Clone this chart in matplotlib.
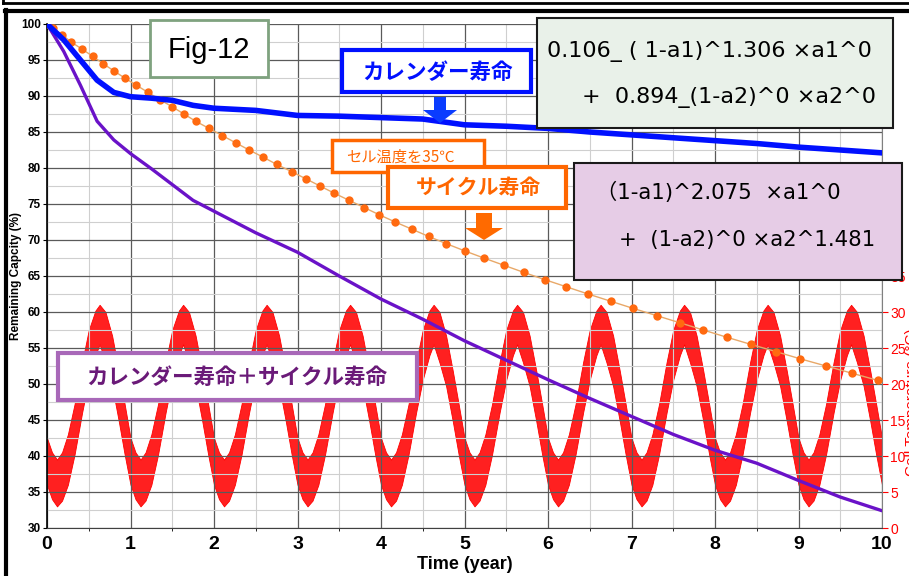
import numpy as np
import matplotlib
matplotlib.use("Agg")
import matplotlib.pyplot as plt
from matplotlib import patches
from matplotlib.lines import Line2D
from matplotlib.ticker import FuncFormatter

W, H = 909, 576
CJK = ["Liberation Sans", "Noto Sans CJK JP", "DejaVu Sans"]
FORMULA = ["DejaVu Sans", "Noto Sans CJK JP"]
plt.rcParams["font.family"] = CJK

# calendar life (blue)
cal_years = [0, 0.2, 0.4, 0.6, 0.8, 1.0, 1.25, 1.5, 1.75, 2.0, 2.5, 3.0, 3.5, 4.0, 4.5,
             5.0, 5.5, 6.0, 6.5, 7.0, 7.5, 8.0, 8.5, 9.0, 9.5, 10.0]
cal_cap = [100, 97.8, 95.0, 92.2, 90.5, 89.9, 89.7, 89.4, 88.7, 88.3, 88.0, 87.3, 87.2, 87.0, 86.8,
           86.0, 85.8, 85.5, 85.0, 84.6, 84.2, 83.8, 83.4, 82.9, 82.5, 82.1]

# calendar + cycle life (purple)
comb_years = cal_years
comb_cap = [100, 96.2, 91.5, 86.5, 83.9, 82.0, 79.9, 77.7, 75.5, 74.0, 71.0, 68.3, 65.0, 61.8, 59.0,
            56.0, 53.3, 50.6, 48.0, 45.5, 43.0, 40.8, 39.0, 36.6, 34.3, 32.4]

# cycle life at 35C (orange dots)
cyc_years = [0.0, 0.07, 0.18, 0.29, 0.42, 0.55, 0.67, 0.80, 0.93, 1.07, 1.21, 1.35, 1.50, 1.64,
             1.78, 1.94, 2.10, 2.26, 2.42, 2.59, 2.75, 2.93, 3.10, 3.27, 3.44, 3.62, 3.80,
             3.98, 4.17, 4.37, 4.57, 4.78, 5.00, 5.23, 5.47, 5.71, 5.96, 6.22, 6.48, 6.75,
             7.02, 7.30, 7.58, 7.86, 8.14, 8.43, 8.73, 9.02, 9.33, 9.64, 9.95]
cyc_cap = [100.0, 99.5, 98.5, 97.5, 96.5, 95.5, 94.5, 93.5, 92.5, 91.5, 90.5, 89.5, 88.5, 87.5,
           86.5, 85.5, 84.5, 83.5, 82.5, 81.5, 80.5, 79.5, 78.5, 77.5, 76.5, 75.5, 74.5,
           73.5, 72.5, 71.5, 70.5, 69.5, 68.5, 67.5, 66.5, 65.5, 64.5, 63.5, 62.5, 61.5,
           60.5, 59.5, 58.5, 57.5, 56.5, 55.5, 54.5, 53.5, 52.5, 51.5, 50.5]

# cell temperature band, one year's envelope (repeats every year)
temp_phase = [0.0, 0.06, 0.12, 0.18, 0.25, 0.33, 0.42, 0.50, 0.58, 0.63, 0.70, 0.78, 0.86, 0.93]
temp_low = [6.0, 4.0, 3.0, 3.8, 6.0, 10.2, 16.0, 20.6, 24.0, 25.5, 23.0, 19.7, 14.8, 10.2]
temp_high = [12.5, 10.5, 9.5, 10.5, 13.0, 17.2, 23.0, 27.5, 30.2, 31.0, 30.0, 26.7, 21.8, 17.2]
n_years = 10


def fx(x):
    return x / W


def fy(y):
    return 1 - y / H


fig = plt.figure(figsize=(W / 100, H / 100), dpi=100)
ax = fig.add_axes([fx(47), fy(528), (882 - 47) / W, (528 - 24) / H])
ax2 = ax.twinx()
ax.set_zorder(ax2.get_zorder() + 1)
ax.patch.set_visible(False)
ax2.patch.set_visible(True)
ax2.patch.set_facecolor("white")

# temperature band on the right scale
t_all, lo_all, hi_all = [], [], []
for yr in range(n_years):
    t_all += [yr + p for p in temp_phase]
    lo_all += temp_low
    hi_all += temp_high
t_all.append(n_years)
lo_all.append(temp_low[0])
hi_all.append(temp_high[0])
ax2.fill_between(t_all, lo_all, hi_all, facecolor="#ff2020", edgecolor="#ff0000", lw=0.6)

ax2.set_ylim(0, 70)
ax2.set_yticks(np.arange(0, 71, 5))
ax2.set_yticks(np.arange(0, 71, 2.5), minor=True)
ax2.yaxis.set_major_formatter(FuncFormatter(lambda v, p: f"{v:.0f}" if v <= 35 else ""))
ax2.xaxis.set_visible(True)
ax2.set_xticks(np.arange(0, 11, 1))
ax2.set_xticks(np.arange(0, 10.5, 0.5), minor=True)
ax2.tick_params(axis="x", which="both", bottom=False, top=False, labelbottom=False, labeltop=False)
ax2.tick_params(axis="y", which="major", colors="red", labelsize=10, length=4, width=0.8, pad=2)
ax2.tick_params(axis="y", which="minor", length=0)
for tk, loc in zip(ax2.yaxis.get_major_ticks(), ax2.get_yticks()):
    if loc > 35:
        tk.tick2line.set_visible(False)
ax2.grid(which="major", color="#5a5a5a", lw=0.9)
ax2.grid(which="minor", color="#cfcfcf", lw=0.8)
for s in ["top", "left", "bottom"]:
    ax2.spines[s].set_visible(False)
ax2.spines["right"].set_color("#808080")
ax2.set_ylabel("Cell Temperature (°C)", color="red", fontsize=11)
ax2.yaxis.set_label_coords((905 - 47) / 835, 0.25)

# capacity curves
ax.plot(cyc_years, cyc_cap, color="#e8a868", lw=1.0, zorder=2)
ax.plot(cyc_years, cyc_cap, "o", color="#ff6a10", ms=6, mec="none", zorder=3)
ax.plot(comb_years, comb_cap, color="#6a12c8", lw=2.4, zorder=4, solid_capstyle="round")
ax.plot(cal_years, cal_cap, color="#0010ff", lw=4.0, zorder=5, solid_capstyle="round")

ax.set_xlim(0, 10)
ax.set_ylim(30, 100)
ax.set_xticks(np.arange(0, 11, 1))
ax.set_yticks(np.arange(30, 101, 5))
ax.tick_params(axis="y", labelsize=8.5, length=3, width=0.8, pad=1.5)
ax.tick_params(axis="x", labelsize=14, length=0, pad=6)
for lab in ax.get_yticklabels():
    lab.set_fontweight("bold")
for lab in ax.get_xticklabels():
    lab.set_fontweight("bold")
    lab.set_family(["Liberation Sans Narrow", "Liberation Sans"])
for s in ["top", "right"]:
    ax.spines[s].set_visible(False)
ax.spines["left"].set_linewidth(1.2)
ax.spines["bottom"].set_color("#404040")
ax.set_ylabel("Remaining Capcity (%)", fontsize=8.5, fontweight="bold")
ax.yaxis.set_label_coords(-(47 - 22) / 835, 0.5)
ax.set_xlabel("Time (year)", fontsize=13, fontweight="bold",
              family=["Liberation Sans Narrow", "Liberation Sans"], labelpad=2)


def box(x0, y0, x1, y1, edge, face="white", lw=2.0):
    r = patches.Rectangle((fx(x0), fy(y1)), (x1 - x0) / W, (y1 - y0) / H,
                          transform=fig.transFigure, facecolor=face, edgecolor=edge,
                          lw=lw, zorder=5)
    fig.add_artist(r)


def down_arrow(cx, top, neck, bottom, shaft_w, head_w, color):
    pts = [(cx - shaft_w / 2, top), (cx + shaft_w / 2, top), (cx + shaft_w / 2, neck),
           (cx + head_w / 2, neck), (cx, bottom), (cx - head_w / 2, neck),
           (cx - shaft_w / 2, neck)]
    poly = patches.Polygon([(fx(x), fy(y)) for x, y in pts], closed=True,
                           transform=fig.transFigure, facecolor=color, edgecolor="none",
                           zorder=5)
    fig.add_artist(poly)


def label(x, y, s, ha="center", **kw):
    fig.text(fx(x), fy(y), s, ha=ha, va="center", zorder=6, **kw)


# Fig-12
box(150, 20, 268, 77, "#7fa27f", lw=2.0)
label(209, 50, "Fig-12", fontsize=21, family=["Liberation Sans"])

# calendar life note
box(342, 50, 531, 92, "#0010ff", lw=3.0)
label(437, 73, "カレンダー寿命", fontsize=15.5, color="#0010ff", fontweight="bold")
down_arrow(440, 97, 110, 123, 12, 34, "#0a3cff")

# calendar formula
box(537, 18, 893, 128, "#1a1a1a", face="#e9f1e9", lw=1.5)
label(547, 52, "0.106_ ( 1-a1)^1.306 ×a1^0", ha="left", fontsize=16, family=FORMULA)
label(582, 97, "+  0.894_(1-a2)^0 ×a2^0", ha="left", fontsize=16, family=FORMULA)

# cycle life notes
box(332, 140, 484, 172, "#ff6600", lw=2.5)
label(400, 157, "セル温度を35℃", fontsize=11, color="#ff6600",
      family=["Noto Sans CJK JP", "DejaVu Sans"])
box(388, 167, 566, 208, "#ff6600", lw=3.0)
label(478, 188, "サイクル寿命", fontsize=15, color="#ff6600", fontweight="bold")
down_arrow(484, 213, 228, 240, 16, 38, "#ff6a00")

# combined formula
box(574, 163, 902, 280, "#1a1a1a", face="#e6cce6", lw=1.5)
label(596, 192, "（1-a1)^2.075  ×a1^0", ha="left", fontsize=15.3, family=FORMULA)
label(619, 240, "+  (1-a2)^0 ×a2^1.481", ha="left", fontsize=15.3, family=FORMULA)

# combined life note
box(58, 353, 417, 400, "#a868b8", lw=3.0)
label(237, 378, "カレンダー寿命＋サイクル寿命", fontsize=15.5, color="#6a1a78",
      fontweight="bold")

# outer frame
for xs, ys, lw in [([6, 6], [10, 576], 3.0), ([5, 909], [11, 11], 3.0),
                   ([3, 909], [3, 3], 2.0), ([3, 3], [0, 3], 2.0)]:
    fig.add_artist(Line2D([fx(x) for x in xs], [fy(y) for y in ys], color="black",
                          lw=lw, transform=fig.transFigure))

fig.savefig("out.png", dpi=100)
